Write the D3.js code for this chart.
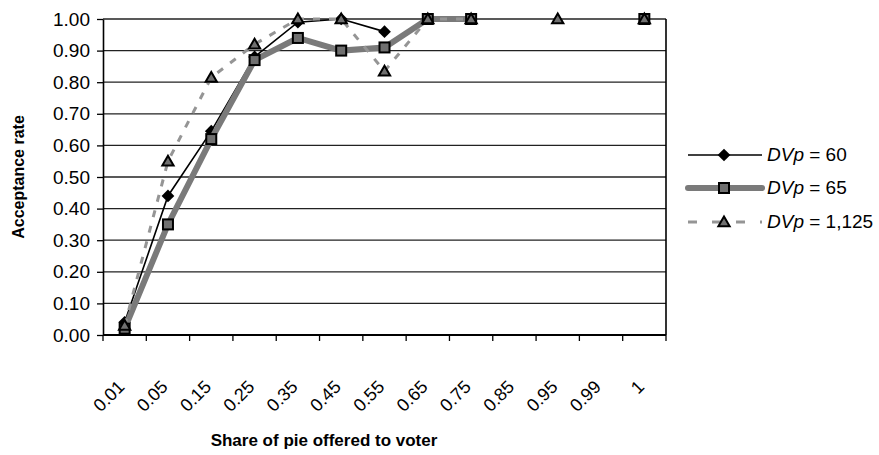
<!DOCTYPE html>
<html>
<head>
<meta charset="utf-8">
<script src="https://cdn.jsdelivr.net/npm/d3@7"></script>
<style>
  body { margin: 0; background: #fff; }
  text { font-family: "Liberation Sans", Arial, sans-serif; fill: #000; }
</style>
</head>
<body>
<div id="chart"></div>
<script>
// categories on the x axis (share of pie offered)
const shares = ["0.01", "0.05", "0.15", "0.25", "0.35", "0.45", "0.55", "0.65", "0.75", "0.85", "0.95", "0.99", "1"]
const yTicks = [0, 0.1, 0.2, 0.3, 0.4, 0.5, 0.6, 0.7, 0.8, 0.9, 1.0]

// acceptance rates per series (null = no observation)
const dvp60 = [0.04, 0.44, 0.645, 0.88, 0.99, 1.00, 0.96, null, null, null, null, null, null]
const dvp65 = [0.02, 0.35, 0.62, 0.87, 0.94, 0.90, 0.91, 1.00, 1.00, null, null, null, 1.00]
const dvp1125 = [0.03, 0.55, 0.815, 0.92, 1.00, 1.00, 0.835, 1.00, 1.00, null, 1.00, null, 1.00]

const seriesNames = ["60", "65", "1,125"]

// chart dimensions
const W = 879, H = 455
const plot = { left: 103, right: 666, top: 19, bottom: 335 }

const svg = d3.select("#chart").append("svg")
    .attr("width", W)
    .attr("height", H)

const x = d3.scaleBand()
    .domain(shares)
    .range([plot.left, plot.right])
    .padding(0)

const y = d3.scaleLinear()
    .domain([0, 1])
    .range([plot.bottom, plot.top])

const cx = function(c) { return x(c) + x.bandwidth() / 2 }

// gridlines
svg.append("g")
  .selectAll("line")
  .data(yTicks.slice(1))
  .join("line")
    .attr("x1", plot.left)
    .attr("x2", plot.right)
    .attr("y1", function(d) { return y(d) })
    .attr("y2", function(d) { return y(d) })
    .attr("stroke", "#222")
    .attr("stroke-width", 1.3)

// right border
svg.append("line")
    .attr("x1", plot.right).attr("x2", plot.right)
    .attr("y1", plot.top).attr("y2", plot.bottom)
    .attr("stroke", "#000").attr("stroke-width", 1.6)

// y axis
const yAxis = svg.append("g")
    .attr("transform", `translate(${plot.left},0)`)
    .call(d3.axisLeft(y)
        .tickValues(yTicks)
        .tickFormat(d3.format(".2f"))
        .tickSize(6)
        .tickSizeOuter(0))
yAxis.select(".domain").attr("stroke", "#000").attr("stroke-width", 1.6)
yAxis.selectAll(".tick line").attr("stroke", "#000").attr("stroke-width", 1.3)
yAxis.selectAll(".tick text")
    .attr("x", -13)
    .style("font-size", "19px")

// x axis with ticks between categories
const xAxis = svg.append("g")
    .attr("transform", `translate(0,${plot.bottom})`)
xAxis.append("line")
    .attr("x1", plot.left).attr("x2", plot.right)
    .attr("stroke", "#000").attr("stroke-width", 1.8)
xAxis.selectAll(".tk")
  .data(shares.concat(["end"]))
  .join("line")
    .attr("class", "tk")
    .attr("x1", function(d, i) { return plot.left + i * x.bandwidth() })
    .attr("x2", function(d, i) { return plot.left + i * x.bandwidth() })
    .attr("y1", 0).attr("y2", 6)
    .attr("stroke", "#000").attr("stroke-width", 1.3)
xAxis.selectAll(".lbl")
  .data(shares)
  .join("text")
    .attr("class", "lbl")
    .attr("text-anchor", "end")
    .attr("transform", function(d) { return `translate(${cx(d) + 1},${53}) rotate(-45)` })
    .style("font-size", "18px")
    .text(function(d) { return d })

// axis titles
svg.append("text")
    .attr("transform", `translate(24,${(plot.top + plot.bottom) / 2}) rotate(-90)`)
    .attr("text-anchor", "middle")
    .style("font-size", "16px")
    .style("font-weight", "bold")
    .text("Acceptance rate")

svg.append("text")
    .attr("x", 324)
    .attr("y", 446)
    .attr("text-anchor", "middle")
    .style("font-size", "17px")
    .style("font-weight", "bold")
    .text("Share of pie offered to voter")

// series styles
const styles = [
    { data: dvp60, stroke: "#000", width: 1.6, dash: null, marker: "diamond" },
    { data: dvp65, stroke: "#7a7a7a", width: 6, dash: null, marker: "square" },
    { data: dvp1125, stroke: "#959595", width: 3, dash: "7,9", marker: "triangle" }
]

const line = d3.line()
    .defined(function(d) { return d.v !== null })
    .x(function(d) { return cx(d.c) })
    .y(function(d) { return y(d.v) })

function drawMarker(g, type, px, py) {
    if (type === "diamond") {
        g.append("rect")
            .attr("x", -4.5).attr("y", -4.5)
            .attr("width", 9).attr("height", 9)
            .attr("transform", `translate(${px},${py}) rotate(45)`)
            .attr("fill", "#000")
    } else if (type === "square") {
        g.append("rect")
            .attr("x", px - 5).attr("y", py - 5)
            .attr("width", 10).attr("height", 10)
            .attr("fill", "#707070")
            .attr("stroke", "#000").attr("stroke-width", 2)
    } else {
        g.append("path")
            .attr("d", d3.symbol(d3.symbolTriangle, 55)())
            .attr("transform", `translate(${px},${py + 1})`)
            .attr("fill", "#707070")
            .attr("stroke", "#000").attr("stroke-width", 2)
    }
}

styles.forEach(function(s) {
    const pts = shares.map(function(c, i) { return { c: c, v: s.data[i] } })
    const g = svg.append("g")
    g.append("path")
        .datum(pts)
        .attr("fill", "none")
        .attr("stroke", s.stroke)
        .attr("stroke-width", s.width)
        .attr("stroke-dasharray", s.dash)
        .attr("d", line)
    pts.filter(function(d) { return d.v !== null }).forEach(function(d) {
        drawMarker(g, s.marker, cx(d.c), y(d.v))
    })
})

// legend
const legendRows = [155, 188, 222]
styles.forEach(function(s, i) {
    const g = svg.append("g")
    g.append("line")
        .attr("x1", 688).attr("x2", 762)
        .attr("y1", legendRows[i]).attr("y2", legendRows[i])
        .attr("stroke", s.stroke)
        .attr("stroke-width", s.width)
        .attr("stroke-linecap", i === 1 ? "round" : "butt")
        .attr("stroke-dasharray", s.dash ? "9,15" : null)
    drawMarker(g, s.marker, 724, legendRows[i])
    const t = g.append("text")
        .attr("x", 767)
        .attr("y", legendRows[i] + 6)
        .style("font-size", "19px")
    t.append("tspan").style("font-style", "italic").text("DVp")
    t.append("tspan").text(" = " + seriesNames[i])
})
</script>
</body>
</html>
